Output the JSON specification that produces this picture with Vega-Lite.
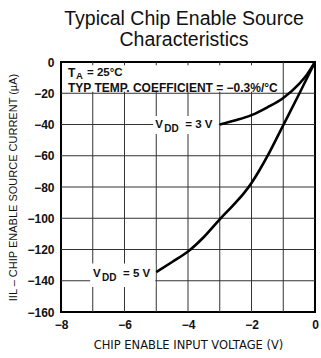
{
  "$schema": "https://vega.github.io/schema/vega-lite/v6.json",
  "width": 254,
  "height": 250,
  "autosize": {"type": "none"},
  "padding": {"left": 61, "top": 62, "right": 6, "bottom": 46},
  "background": "white",
  "title": {
    "text": ["Typical Chip Enable Source", "Characteristics"],
    "font": "Liberation Sans",
    "fontSize": 19.5,
    "fontWeight": "normal",
    "lineHeight": 21,
    "color": "#111",
    "anchor": "middle",
    "offset": 6,
    "dx": -4
  },
  "config": {
    "view": {"stroke": "#000", "strokeWidth": 2},
    "axis": {
      "grid": false,
      "ticks": false,
      "domain": false,
      "labelFont": "Liberation Sans",
      "labelFontSize": 12,
      "labelFontWeight": "bold",
      "labelColor": "#111",
      "titleFont": "Liberation Sans",
      "titleFontSize": 11,
      "titleFontWeight": "normal",
      "titleColor": "#111"
    }
  },
  "datasets": {
    "curves": [
      {"series": "3V", "v": -3, "i": -40},
      {"series": "3V", "v": -2.5, "i": -37.3},
      {"series": "3V", "v": -2, "i": -34},
      {"series": "3V", "v": -1.5, "i": -29},
      {"series": "3V", "v": -1, "i": -23},
      {"series": "3V", "v": -0.5, "i": -14},
      {"series": "3V", "v": -0.25, "i": -8},
      {"series": "3V", "v": 0, "i": 0},
      {"series": "5V", "v": -5, "i": -134.5},
      {"series": "5V", "v": -4.5, "i": -128},
      {"series": "5V", "v": -4, "i": -121.3},
      {"series": "5V", "v": -3.5, "i": -112},
      {"series": "5V", "v": -3, "i": -100.7},
      {"series": "5V", "v": -2.5, "i": -90},
      {"series": "5V", "v": -2.25, "i": -84.2},
      {"series": "5V", "v": -2, "i": -77.4},
      {"series": "5V", "v": -1.75, "i": -69.3},
      {"series": "5V", "v": -1.5, "i": -60.3},
      {"series": "5V", "v": -1.25, "i": -50.5},
      {"series": "5V", "v": -1, "i": -40.5},
      {"series": "5V", "v": -0.5, "i": -20.5},
      {"series": "5V", "v": 0, "i": 0}
    ],
    "gridV": [
      {"v": -7, "i": 0, "i2": -160}, {"v": -6, "i": 0, "i2": -160}, {"v": -5, "i": 0, "i2": -160},
      {"v": -4, "i": 0, "i2": -160}, {"v": -3, "i": 0, "i2": -160}, {"v": -2, "i": 0, "i2": -160},
      {"v": -1, "i": 0, "i2": -160}
    ],
    "gridH": [
      {"v": -8, "v2": 0, "i": -140}, {"v": -8, "v2": 0, "i": -120}, {"v": -8, "v2": 0, "i": -100},
      {"v": -8, "v2": 0, "i": -80}, {"v": -8, "v2": 0, "i": -60}, {"v": -8, "v2": 0, "i": -40},
      {"v": -8, "v2": 0, "i": -20}
    ],
    "boxes": [
      {"v": -7.95, "v2": -1.1, "i": -2, "i2": -19},
      {"v": -5.1, "v2": -3.03, "i": -34.5, "i2": -46},
      {"v": -7.08, "v2": -5.03, "i": -129, "i2": -144}
    ],
    "mainText": [
      {"v": -7.78, "i": -7.1, "t": "T"},
      {"v": -7.78, "i": -16.6, "t": "TYP TEMP. COEFFICIENT = −0.3%/°C"}
    ],
    "vddText": [
      {"v": -5.03, "i": -40.4, "t": "V"},
      {"v": -6.99, "i": -135.6, "t": "V"}
    ],
    "subText": [
      {"v": -7.78, "i": -7.1, "t": "A", "k": "ta"},
      {"v": -5.03, "i": -40.4, "t": "DD", "k": "vdd"},
      {"v": -6.99, "i": -135.6, "t": "DD", "k": "vdd"}
    ],
    "restText": [
      {"v": -7.78, "i": -7.1, "t": "= 25°C", "k": "ta"},
      {"v": -5.03, "i": -40.4, "t": "= 3 V", "k": "vdd"},
      {"v": -6.99, "i": -135.6, "t": "= 5 V", "k": "vdd"}
    ]
  },
  "encoding": {
    "x": {"field": "v", "type": "quantitative",
          "scale": {"domain": [-8, 0], "nice": false, "zero": false},
          "title": "CHIP ENABLE INPUT VOLTAGE (V)",
          "axis": {"titleFont": "DejaVu Sans", "titleFontSize": 11.5,
                   "values": [-8, -7, -6, -5, -4, -3, -2, -1, 0],
                   "labelExpr": "datum.value % 2 == 0 ? datum.label : ''", "labelPadding": 7, "titlePadding": 9, "labelFlush": false, "labelOverlap": false}},
    "y": {"field": "i", "type": "quantitative",
          "scale": {"domain": [-160, 0], "nice": false, "zero": false},
          "title": "IIL – CHIP ENABLE SOURCE CURRENT (µA)",
          "axis": {"values": [-160, -140, -120, -100, -80, -60, -40, -20, 0],
                   "labelPadding": 7, "titlePadding": 8, "labelFlush": false, "labelOverlap": false}}
  },
  "layer": [
    {
      "data": {"name": "gridV"},
      "mark": {"type": "rule", "color": "#333", "strokeWidth": 1},
      "encoding": {"y2": {"field": "i2"}}
    },
    {
      "data": {"name": "gridH"},
      "mark": {"type": "rule", "color": "#333", "strokeWidth": 1},
      "encoding": {"x2": {"field": "v2"}}
    },
    {
      "data": {"name": "boxes"},
      "mark": {"type": "rect", "fill": "white"},
      "encoding": {"x2": {"field": "v2"}, "y2": {"field": "i2"}}
    },
    {
      "data": {"name": "curves"},
      "mark": {"type": "line", "color": "#000", "strokeWidth": 2.6, "interpolate": "monotone"},
      "encoding": {"detail": {"field": "series"}}
    },
    {
      "data": {"name": "mainText"},
      "mark": {"type": "text", "align": "left", "baseline": "middle", "font": "Liberation Sans", "fontSize": 12, "fontWeight": "bold", "color": "#111"},
      "encoding": {"text": {"field": "t"}}
    },
    {
      "data": {"name": "vddText"},
      "mark": {"type": "text", "align": "left", "baseline": "middle", "font": "Liberation Sans", "fontSize": 11.5, "fontWeight": "bold", "color": "#111"},
      "encoding": {"text": {"field": "t"}}
    },
    {
      "data": {"name": "subText"},
      "transform": [{"filter": "datum.k == 'ta'"}],
      "mark": {"type": "text", "align": "left", "baseline": "middle", "dx": 8, "dy": 3, "font": "Liberation Sans", "fontSize": 9.5, "fontWeight": "bold", "color": "#111"},
      "encoding": {"text": {"field": "t"}}
    },
    {
      "data": {"name": "subText"},
      "transform": [{"filter": "datum.k == 'vdd'"}],
      "mark": {"type": "text", "align": "left", "baseline": "middle", "dx": 9, "dy": 4, "font": "Liberation Sans", "fontSize": 10, "fontWeight": "bold", "color": "#111"},
      "encoding": {"text": {"field": "t"}}
    },
    {
      "data": {"name": "restText"},
      "transform": [{"filter": "datum.k == 'ta'"}],
      "mark": {"type": "text", "align": "left", "baseline": "middle", "dx": 19, "font": "Liberation Sans", "fontSize": 11.5, "fontWeight": "bold", "color": "#111"},
      "encoding": {"text": {"field": "t"}}
    },
    {
      "data": {"name": "restText"},
      "transform": [{"filter": "datum.k == 'vdd'"}],
      "mark": {"type": "text", "align": "left", "baseline": "middle", "dx": 30, "font": "Liberation Sans", "fontSize": 11.5, "fontWeight": "bold", "color": "#111"},
      "encoding": {"text": {"field": "t"}}
    }
  ]
}
